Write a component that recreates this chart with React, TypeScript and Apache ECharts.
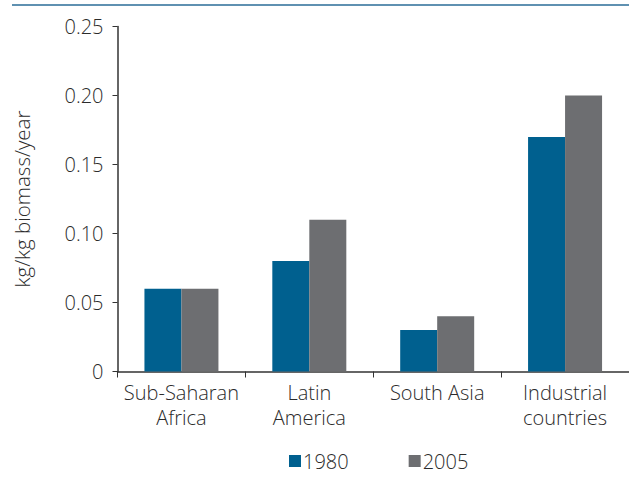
import React, { useEffect, useRef } from "react";
import * as echarts from "echarts";

const categories = ["Sub-Saharan\nAfrica", "Latin\nAmerica", "South Asia", "Industrial\ncountries"];
const values1980 = [0.06, 0.08, 0.03, 0.17];
const values2005 = [0.06, 0.11, 0.04, 0.2];
const seriesNames = ["1980", "2005"];

export default function App() {
  const ref = useRef<HTMLDivElement>(null);
  useEffect(() => {
    if (!ref.current) return;
    const chart = echarts.init(ref.current, null, { renderer: "svg" });
    const font = "Open Sans";
    const textColor = "#2b2b2b";
    chart.setOption({
      animation: false,
      backgroundColor: "#ffffff",
      textStyle: { fontFamily: font, fontWeight: 300 },
      graphic: [
        {
          type: "line",
          shape: { x1: 12, y1: 5, x2: 629, y2: 5 },
          style: { stroke: "#2a6d97", lineWidth: 1.5 },
        },
      ],
      legend: {
        left: 289,
        top: 451,
        padding: 0,
        itemWidth: 12,
        itemHeight: 12,
        itemGap: 60,
        icon: "rect",
        textStyle: { fontFamily: font, fontWeight: 300, fontSize: 20, color: textColor, padding: [0, 0, 0, -3] },
        data: seriesNames,
      },
      grid: { left: 117.5, right: 0, top: 26.5, bottom: 109.5, containLabel: false, outerBoundsMode: "none" },
      xAxis: {
        type: "category",
        data: categories,
        axisLine: { lineStyle: { color: "#333333", width: 1.5 } },
        axisTick: { show: true, length: 6, alignWithLabel: false, lineStyle: { color: "#333333" } },
        axisLabel: { fontFamily: font, fontWeight: 300, fontSize: 20, color: textColor, margin: 8, lineHeight: 25, interval: 0 },
      },
      yAxis: {
        type: "value",
        min: 0,
        max: 0.25,
        interval: 0.05,
        name: "kg/kg biomass/year",
        nameLocation: "middle",
        nameGap: 85,
        nameTextStyle: { fontFamily: font, fontWeight: 300, fontSize: 20.5, color: textColor },
        splitLine: { show: false },
        axisLine: { show: true, lineStyle: { color: "#333333", width: 1.5 } },
        axisTick: { show: true, length: 5, lineStyle: { color: "#333333" } },
        axisLabel: {
          fontFamily: font,
          fontWeight: 300,
          fontSize: 20,
          color: textColor,
          margin: 14,
          formatter: (v: number) => (v === 0 ? "0" : v.toFixed(2)),
        },
      },
      series: [
        {
          name: seriesNames[0],
          type: "bar",
          data: values1980,
          barWidth: 37,
          barGap: "0%",
          itemStyle: { color: "#00608f" },
        },
        {
          name: seriesNames[1],
          type: "bar",
          data: values2005,
          barWidth: 37,
          barGap: "0%",
          itemStyle: { color: "#6d6e71" },
        },
      ],
    });
    return () => chart.dispose();
  }, []);
  return <div ref={ref} style={{ width: 629, height: 481, position: "absolute", left: 0, top: 0 }} />;
}
